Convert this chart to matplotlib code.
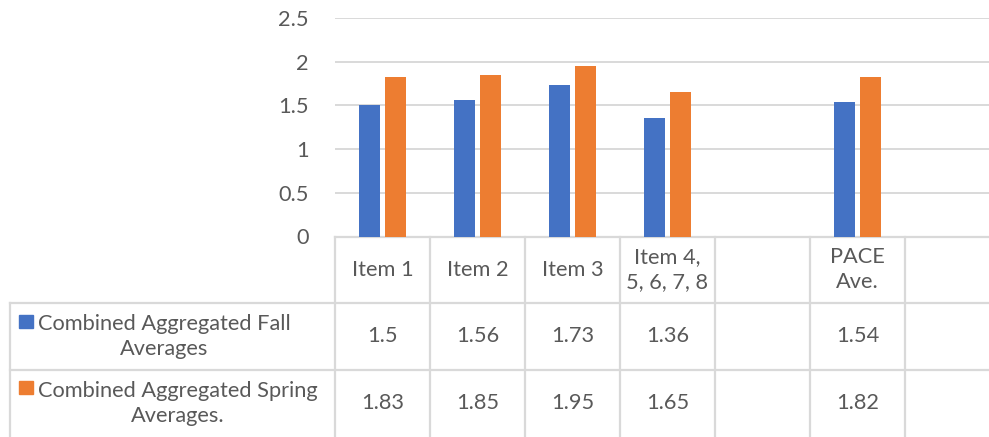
import matplotlib.pyplot as plt
import matplotlib.transforms as mtransforms
from matplotlib.patches import Rectangle
import numpy as np

# Categories on the x axis (two slots are left blank in the sheet)
categories = ["Item 1", "Item 2", "Item 3", "Item 4,\n5, 6, 7, 8", "", "PACE\nAve.", ""]
fall = [1.5, 1.56, 1.73, 1.36, None, 1.54, None]
spring = [1.83, 1.85, 1.95, 1.65, None, 1.82, None]
series_names = ["Combined Aggregated Fall\nAverages", "Combined Aggregated Spring\nAverages."]
yticks = [0, 0.5, 1, 1.5, 2, 2.5]

BLUE = "#4472C4"
ORANGE = "#ED7D31"
GRID = "#D9D9D9"
TEXT = "#595959"

plt.rcParams["font.family"] = ["Lato", "DejaVu Sans"]
FS = 15.7
LS = 1.3

W, H = 989, 437
fig = plt.figure(figsize=(W / 100, H / 100), dpi=100)

# plot area in pixels (runs a little past the right edge, as in the sheet)
x0, x1 = 335, 1000
y_top, y_zero = 18, 236.5
ax = fig.add_axes([x0 / W, 1 - y_zero / H, (x1 - x0) / W, (y_zero - y_top) / H])

x = np.arange(len(categories))
bw = 0.22
off = 0.14
fx = [i for i, v in enumerate(fall) if v is not None]
ax.bar(np.array(fx) - off, [fall[i] for i in fx], width=bw, color=BLUE, zorder=3)
ax.bar(np.array(fx) + off, [spring[i] for i in fx], width=bw, color=ORANGE, zorder=3)

ax.set_xlim(-0.5, len(categories) - 0.5)
ax.set_ylim(0, 2.5)
ax.set_yticks(yticks)
ax.set_yticklabels([f"{t:g}" for t in yticks], fontsize=FS, color=TEXT)
ax.tick_params(axis="y", length=0, pad=19)
ax.set_xticks([])
ax.grid(axis="y", color=GRID, linewidth=1.4, zorder=0)
for s in ax.spines.values():
    s.set_visible(False)

# data table under the chart: x in category units, y in axes fraction
tr = mtransforms.blended_transform_factory(ax.transData, ax.transAxes)
row_h = 0.305
label_left = -0.5 - (x0 - 10) / ((x1 - x0) / len(categories))
x_right = len(categories) - 0.5
bottom = -1.2
line_kw = dict(color=GRID, linewidth=1.6, transform=tr, clip_on=False, zorder=1)

ax.plot([-0.5, x_right], [0, 0], **line_kw)
for r in (1, 2):
    ax.plot([label_left, x_right], [-r * row_h, -r * row_h], **line_kw)
for k in range(len(categories) + 1):
    ax.plot([k - 0.5, k - 0.5], [0, bottom], **line_kw)
ax.plot([label_left, label_left], [-row_h, bottom], **line_kw)

for i, cat in enumerate(categories):
    ax.text(i, -0.5 * row_h, cat, transform=tr, ha="center", va="center",
            fontsize=FS, color=TEXT, linespacing=LS)
for r, (vals, name, col) in enumerate(zip([fall, spring], series_names, [BLUE, ORANGE])):
    yc = -(1.5 + r) * row_h
    for i, v in enumerate(vals):
        if v is not None:
            ax.text(i, yc, f"{v:g}", transform=tr, ha="center", va="center",
                    fontsize=FS, color=TEXT)
    # legend key and series name in the first column
    key_x = label_left + 9 / 95
    ax.add_patch(Rectangle((key_x, yc + 0.04), 14 / 95, 0.06, transform=tr,
                           color=col, clip_on=False))
    ax.text(label_left + 28 / 95, yc, name, transform=tr, ha="left", va="center",
            multialignment="center", fontsize=FS, color=TEXT, linespacing=LS)

fig.savefig("out.png", dpi=100)
